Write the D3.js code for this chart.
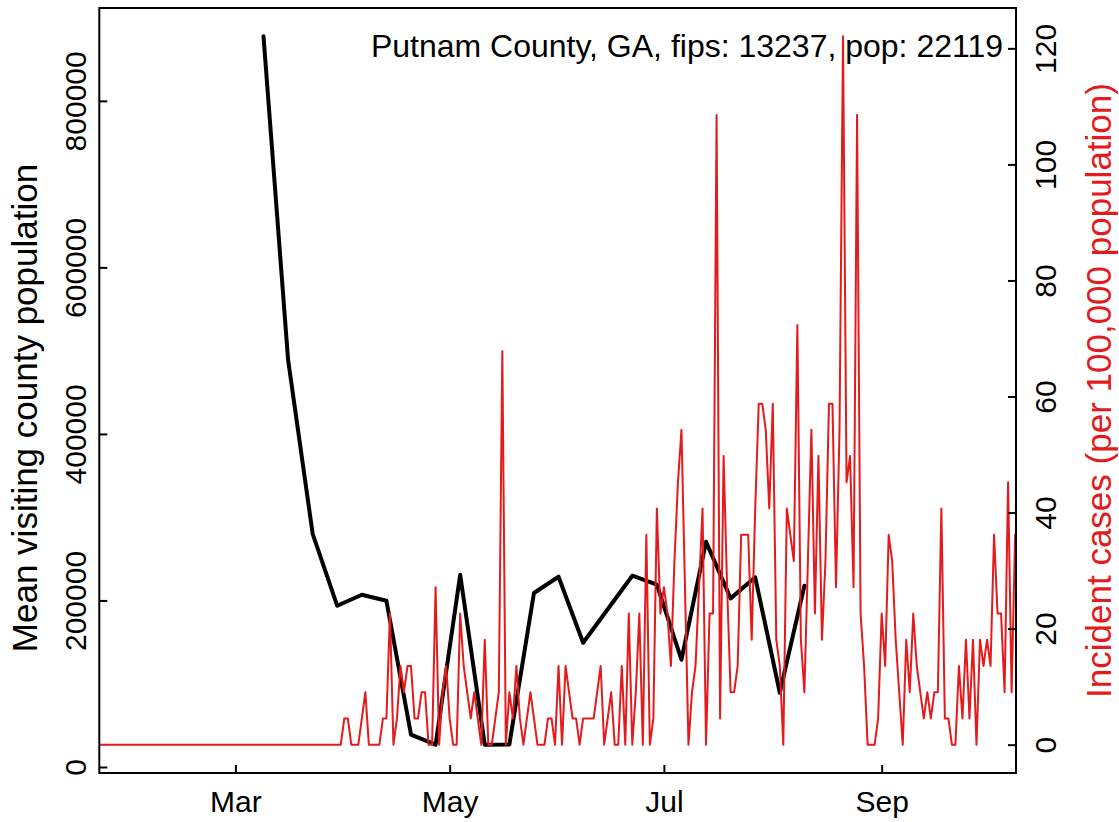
<!DOCTYPE html>
<html><head><meta charset="utf-8">
<script src="https://cdn.jsdelivr.net/npm/d3@7"></script>
<style>
body{margin:0;background:#fff}
svg{display:block;background:#fff}
text{font-family:"Liberation Sans",Arial,Helvetica,sans-serif}
</style>
</head><body>
<svg id="chart" width="1119" height="822"></svg>
<script>
// ---------------- data ----------------
const titleText = "Putnam County, GA, fips: 13237, pop: 22119";
const leftTitle = "Mean visiting county population";
const rightTitle = "Incident cases (per 100,000 population)";

const monthTickDates = ["2020-03-01","2020-05-01","2020-07-01","2020-09-01"];
const monthTickLabels = ["Mar","May","Jul","Sep"];
const leftTicks = [0,200000,400000,600000,800000];
const rightTicks = [0,20,40,60,80,100,120];

// weekly mean visiting county population
const visitDates = ["2020-03-09","2020-03-16","2020-03-23","2020-03-30","2020-04-06","2020-04-13",
  "2020-04-20","2020-04-27","2020-05-04","2020-05-11","2020-05-18","2020-05-25","2020-06-01",
  "2020-06-08","2020-06-22","2020-06-29","2020-07-06","2020-07-13","2020-07-20","2020-07-27",
  "2020-08-03","2020-08-10"];
const visitValues = [877500,489000,280000,193600,206800,199600,
  38800,26800,230900,26800,27000,209000,228500,
  149200,229700,218900,128800,270500,202500,227800,
  89200,217700];

// daily incident cases per 100,000, starting on caseStart
const caseStart = "2020-01-22";
const caseValues = [
  0,0,0,0,0,0,0,0,0,0,
  0,0,0,0,0,0,0,0,0,0,
  0,0,0,0,0,0,0,0,0,0,
  0,0,0,0,0,0,0,0,0,0,
  0,0,0,0,0,0,0,0,0,0,
  0,0,0,0,0,0,0,0,0,0,
  0,0,0,0,0,0,0,0,0,
  0,4.52,4.52,0,0,0,4.52,9.04,0,0,
  0,0,4.52,4.52,22.61,0,4.52,13.56,9.04,13.56,
  13.56,4.52,4.52,9.04,9.04,0,0,27.13,0,9.04,
  13.56,4.52,0,0,22.61,13.56,9.04,4.52,9.04,4.52,
  0,18.08,0,0,4.52,9.04,67.82,0,9.04,4.52,
  13.56,4.52,0,4.52,9.04,4.52,0,0,0,4.52,
  4.52,0,13.56,0,13.56,9.04,4.52,4.52,0,4.52,
  4.52,4.52,4.52,9.04,13.56,0,4.52,9.04,0,0,
  13.56,0,22.61,0,9.04,22.61,0,36.17,0,4.52,
  40.69,22.61,27.13,22.61,13.56,31.65,45.21,54.25,27.13,0,
  9.04,13.56,27.13,40.69,0,22.61,22.61,108.51,4.52,49.73,
  27.13,9.04,9.04,13.56,36.17,36.17,36.17,18.08,40.69,58.77,
  58.77,54.25,40.69,58.77,18.08,13.56,0,40.69,36.17,31.65,
  72.34,18.08,9.04,31.65,54.25,22.61,49.73,18.08,31.65,58.77,
  58.77,27.13,54.25,122.07,45.21,49.73,27.13,108.51,22.61,13.56,
  0,0,0,4.52,22.61,13.56,36.17,31.65,18.08,9.04,
  0,18.08,9.04,22.61,13.56,9.04,4.52,9.04,4.52,9.04,
  9.04,40.69,4.52,4.52,0,0,13.56,4.52,18.08,4.52,
  18.08,0,18.08,13.56,18.08,13.56,36.17,22.61,22.61,9.04,
  45.21,9.04,36.17,13.56
];

// ---------------- layout ----------------
const L = 99.3, R = 1016, T = 8, B = 773;
const FS = 30, FS_LAB = 35, FS_TITLE = 32;
const RED = "#e41a1c";
const parse = d3.timeParse("%Y-%m-%d");

const svg = d3.select("#chart");

const x = d3.scaleTime()
  .domain([new Date(2020,0,22,6), new Date(2020,9,9,6)])
  .range([L, R]);

function padded(ext){ const r = ext[1]-ext[0]; return [ext[0]-0.04*r, ext[1]+0.04*r]; }
const yL = d3.scaleLinear().domain(padded(d3.extent(visitValues))).range([B, T]);
const yR = d3.scaleLinear().domain(padded([0, d3.max(caseValues)])).range([B, T]);

const visit = visitDates.map((d,i)=>({date:parse(d), v:visitValues[i]}));
const start = parse(caseStart);
const cases = caseValues.map((v,i)=>({date:d3.timeDay.offset(start,i), v}));

svg.append("defs").append("clipPath").attr("id","plotclip")
  .append("rect").attr("x",L).attr("y",T).attr("width",R-L).attr("height",B-T);

// black line
svg.append("path").datum(visit)
  .attr("fill","none").attr("stroke","#000").attr("stroke-width",4)
  .attr("stroke-linejoin","round").attr("stroke-linecap","round")
  .attr("clip-path","url(#plotclip)")
  .attr("d", d3.line().x(d=>x(d.date)).y(d=>yL(d.v)));

// red line
svg.append("path").datum(cases)
  .attr("fill","none").attr("stroke",RED).attr("stroke-width",2)
  .attr("stroke-linejoin","round")
  .attr("clip-path","url(#plotclip)")
  .attr("d", d3.line().x(d=>x(d.date)).y(d=>yR(d.v)));

// box
svg.append("rect").attr("x",L).attr("y",T).attr("width",R-L).attr("height",B-T)
  .attr("fill","none").attr("stroke","#000").attr("stroke-width",2);

function styleAxis(g){
  g.select(".domain").remove();
  g.selectAll(".tick line").attr("stroke","#000").attr("stroke-width",2);
  g.selectAll("text").attr("fill","#000").style("font-size",FS+"px")
    .style("font-family","'Liberation Sans',Arial,Helvetica,sans-serif");
}

// bottom axis
const gx = svg.append("g").attr("transform",`translate(0,${B})`)
  .call(d3.axisBottom(x).tickValues(monthTickDates.map(parse))
    .tickFormat((d,i)=>monthTickLabels[i]).tickSize(-8).tickPadding(18));
styleAxis(gx);

// left axis
const gl = svg.append("g").attr("transform",`translate(${L},0)`)
  .call(d3.axisLeft(yL).tickValues(leftTicks).tickFormat(d3.format("d")).tickSize(-8));
styleAxis(gl);
gl.selectAll("text").attr("x",null).attr("dy",null).attr("text-anchor","middle")
  .attr("transform",`translate(${86-L},0) rotate(-90)`);

// right axis
const gr = svg.append("g").attr("transform",`translate(${R},0)`)
  .call(d3.axisRight(yR).tickValues(rightTicks).tickFormat(d3.format("d")).tickSize(-8));
styleAxis(gr);
gr.selectAll("text").attr("x",null).attr("dy",null).attr("text-anchor","middle")
  .attr("transform",`translate(${1056-R},0) rotate(-90)`);

// axis titles
svg.append("text").attr("transform",`translate(37,408) rotate(-90)`)
  .attr("text-anchor","middle").style("font-size",FS_LAB+"px").attr("fill","#000").text(leftTitle);
svg.append("text").attr("transform",`translate(1111,${(T+B)/2}) rotate(-90)`)
  .attr("text-anchor","middle").style("font-size",FS_LAB+"px").attr("fill",RED).text(rightTitle);

// title inside plot
svg.append("text").attr("x",1003).attr("y",57).attr("text-anchor","end")
  .style("font-size",FS_TITLE+"px").attr("fill","#000").text(titleText);
</script>
</body></html>
